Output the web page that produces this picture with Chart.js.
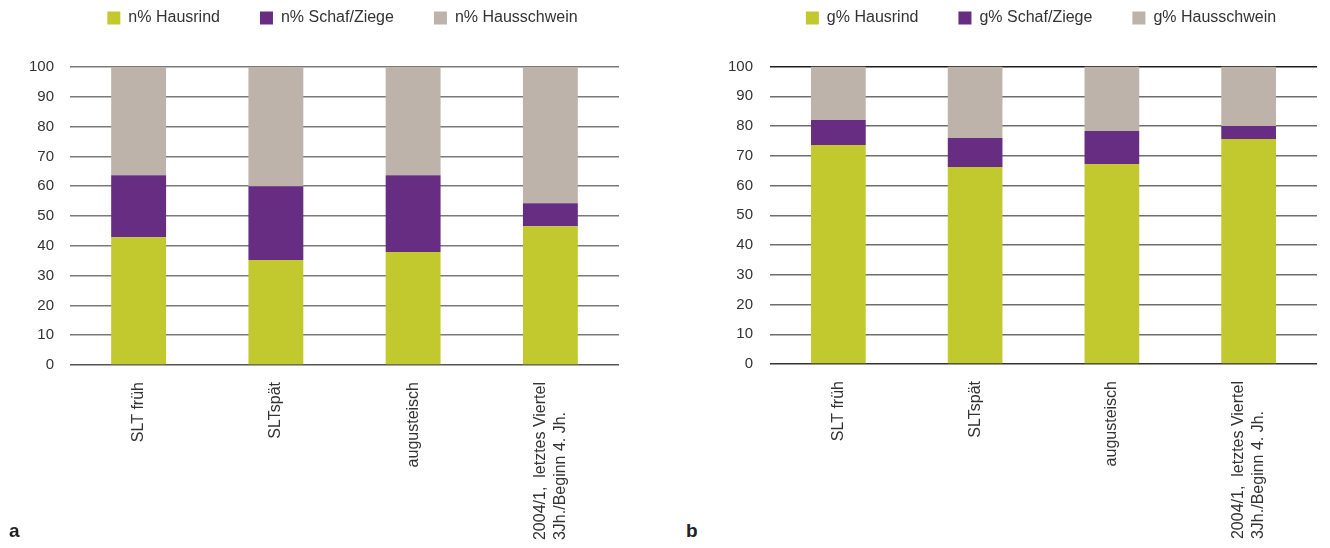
<!DOCTYPE html>
<html>
<head>
<meta charset="utf-8">
<script src="https://cdn.jsdelivr.net/npm/chart.js@4/dist/chart.umd.min.js"></script>
<style>
  html, body { margin: 0; padding: 0; background: #fff; overflow: hidden; width: 1330px; height: 548px; }
  .panel { position: absolute; top: 0; height: 548px; }
  #panelA { left: 0; width: 665px; }
  #panelB { left: 700px; width: 662px; }
  .tag { position: absolute; font-family: "Liberation Sans Narrow", "Liberation Sans", Arial, sans-serif;
         font-weight: bold; font-size: 19px; line-height: 19px; color: #222; }
</style>
</head>
<body>
<div class="panel" id="panelA"><canvas id="chartA"></canvas></div>
<div class="panel" id="panelB"><canvas id="chartB"></canvas></div>
<div class="tag" style="left:9px; top:521px;">a</div>
<div class="tag" style="left:686px; top:521px;">b</div>

<script>
// Periods (x categories)
const periods = ['SLT früh', 'SLTspät', 'augusteisch', ['2004/1,  letztes Viertel', '3Jh./Beginn 4. Jh.']];

// Percent axis ticks
const percentTicks = [0, 10, 20, 30, 40, 50, 60, 70, 80, 90, 100];

// a: share by number of fragments (n%)
const nHausrind     = [42.9, 35.2, 37.9, 46.6];
const nSchafZiege   = [20.8, 24.8, 25.8, 7.7];
const nHausschwein  = [36.3, 40.0, 36.3, 45.7];

// b: share by weight (g%)
const gHausrind     = [73.6, 66.2, 67.2, 75.6];
const gSchafZiege   = [8.4, 9.8, 11.1, 4.4];
const gHausschwein  = [18.0, 24.0, 21.7, 20.0];

const FONT = '"Liberation Sans", Arial, sans-serif';
const TEXT = '#333333';
const COL_RIND = '#c2c92f';
const COL_SCHAF = '#662d82';
const COL_SCHWEIN = '#bdb3aa';

// Rotated category labels; lines of a multi-line label share the same start point
const categoryLabels = {
  id: 'categoryLabels',
  afterDraw(chart) {
    const ctx = chart.ctx;
    const xs = chart.scales.x;
    const lh = 19.5;
    ctx.save();
    ctx.font = '16px ' + FONT;
    ctx.fillStyle = TEXT;
    ctx.textAlign = 'left';
    ctx.textBaseline = 'middle';
    chart.data.labels.forEach((lab, i) => {
      const lines = [].concat(lab);
      const cx = xs.getPixelForTick(i);
      const longest = Math.max(...lines.map(l => ctx.measureText(l).width));
      const startY = xs.top + 17 + longest;
      lines.forEach((line, j) => {
        const off = (j - (lines.length - 1) / 2) * lh;
        ctx.save();
        ctx.translate(cx + off, startY);
        ctx.rotate(-Math.PI / 2);
        ctx.fillText(line, 0, 0);
        ctx.restore();
      });
    });
    ctx.restore();
  }
};

function buildChart(id, prefix, rind, schaf, schwein, o) {
  return new Chart(document.getElementById(id), {
    type: 'bar',
    data: {
      labels: periods,
      datasets: [
        { label: prefix + ' Hausrind', data: rind, backgroundColor: COL_RIND },
        { label: prefix + ' Schaf/Ziege', data: schaf, backgroundColor: COL_SCHAF },
        { label: prefix + ' Hausschwein', data: schwein, backgroundColor: COL_SCHWEIN }
      ]
    },
    options: {
      responsive: true,
      maintainAspectRatio: false,
      animation: false,
      layout: { padding: { left: o.padLeft, right: 0, top: -30, bottom: 0 } },
      datasets: { bar: { barPercentage: 0.4, categoryPercentage: 1.0 } },
      plugins: {
        legend: {
          position: 'top',
          labels: { boxWidth: 13, boxHeight: 13, padding: 40, color: TEXT, font: { size: 16, family: FONT } }
        },
        tooltip: { enabled: false }
      },
      scales: {
        x: {
          stacked: true,
          grid: { display: false },
          border: { display: false },
          ticks: { display: false },
          afterFit: s => { s.height = o.bottom; }
        },
        // empty band between legend and plot
        xGap: {
          type: 'category',
          axis: 'x',
          position: 'top',
          display: true,
          grid: { display: false },
          border: { display: false },
          ticks: { display: false },
          afterFit: s => { s.height = o.gap; }
        },
        y: {
          stacked: true,
          min: 0,
          max: 100,
          afterBuildTicks: s => { s.ticks = percentTicks.map(v => ({ value: v })); },
          grid: {
            drawTicks: false,
            lineWidth: 1.5,
            color: c => c.tick.value === 100 ? o.topLine : (c.tick.value === 0 ? o.baseLine : o.gridLine)
          },
          border: { display: false },
          ticks: { padding: o.tickPad, color: TEXT, font: { size: 15, family: FONT } },
          afterFit: s => { s.width = o.axisW; }
        },
        // empty margin right of the plot
        yMargin: {
          type: 'linear',
          axis: 'y',
          position: 'right',
          display: true,
          grid: { display: false },
          border: { display: false },
          ticks: { display: false },
          afterFit: s => { s.width = o.rightW; }
        }
      }
    },
    plugins: [categoryLabels]
  });
}

buildChart('chartA', 'n%', nHausrind, nSchafZiege, nHausschwein,
  { padLeft: 20, axisW: 50, rightW: 46, tickPad: 16, bottom: 183, gap: 31,
    topLine: '#7a7a7a', gridLine: '#7a7a7a', baseLine: '#555555' });

buildChart('chartB', 'g%', gHausrind, gSchafZiege, gHausschwein,
  { padLeft: 20, axisW: 50, rightW: 45, tickPad: 17, bottom: 184, gap: 30.5,
    topLine: '#1e1e1e', gridLine: '#6e6e6e', baseLine: '#333333' });
</script>
</body>
</html>
